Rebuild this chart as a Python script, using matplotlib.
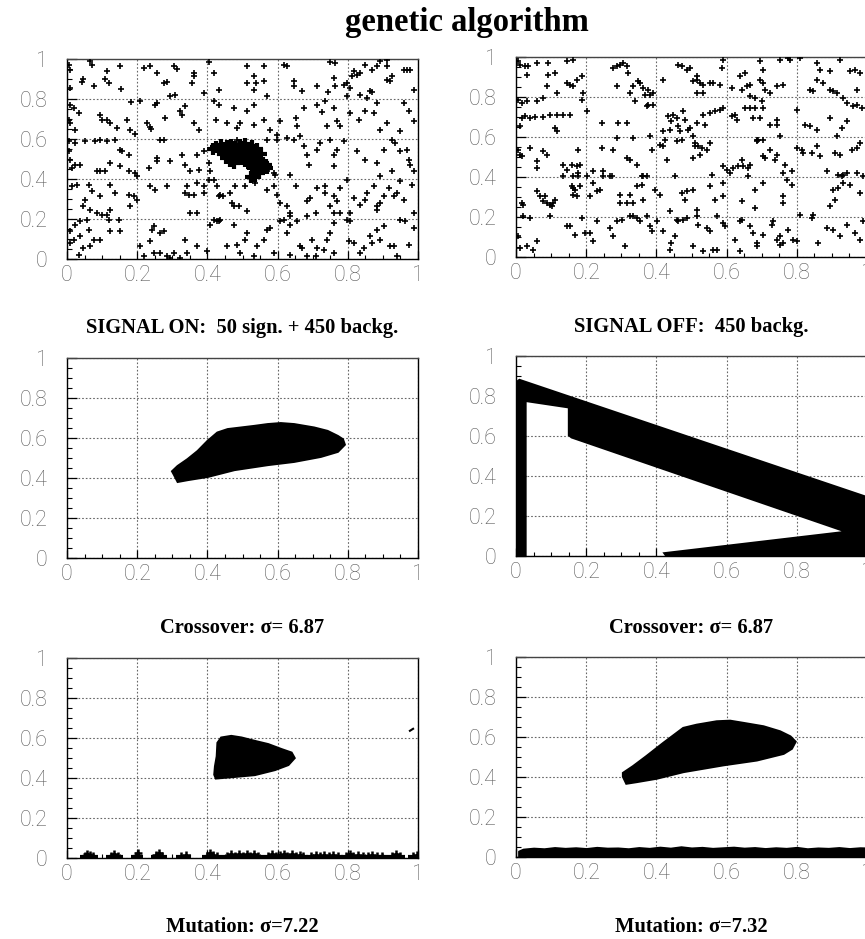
import matplotlib
matplotlib.use("Agg")
import matplotlib.pyplot as plt
from matplotlib.ticker import MultipleLocator
import numpy as np

# ---- data ----
TICKS = [0, 0.2, 0.4, 0.6, 0.8, 1.0]
TICK_LABELS = ['0', '0.2', '0.4', '0.6', '0.8', '1']

TITLE = 'genetic algorithm'
CAPTIONS = [
    ('SIGNAL ON:  50 sign. + 450 backg.', 'SIGNAL OFF:  450 backg.'),
    ('Crossover: \u03c3= 6.87', 'Crossover: \u03c3= 6.87'),
    ('Mutation: \u03c3=7.22', 'Mutation: \u03c3=7.32'),
]

# background events, signal-on panel
BG_ON = [
    (0.005, 0.972), (0.009, 0.947), (0.066, 0.988), (0.071, 0.972), (0.114, 0.938), (0.152, 0.967),
    (0.109, 0.900), (0.119, 0.880), (0.043, 0.883), (0.047, 0.900), (0.076, 0.863), (0.154, 0.850),
    (0.009, 0.855), (0.218, 0.955), (0.237, 0.967), (0.256, 0.930), (0.275, 0.880), (0.285, 0.883),
    (0.304, 0.963), (0.313, 0.950), (0.363, 0.930), (0.363, 0.913), (0.356, 0.880), (0.389, 0.830),
    (0.404, 0.983), (0.432, 0.847), (0.418, 0.930), (0.513, 0.963), (0.560, 0.963), (0.513, 0.880),
    (0.539, 0.880), (0.532, 0.913), (0.560, 0.888), (0.532, 0.847), (0.570, 0.813), (0.617, 0.972),
    (0.627, 0.967), (0.646, 0.888), (0.646, 0.863), (0.670, 0.838), (0.712, 0.863), (0.750, 0.983),
    (0.764, 0.980), (0.760, 0.905), (0.764, 0.863), (0.788, 0.872), (0.798, 0.880), (0.812, 0.913),
    (0.817, 0.938), (0.826, 0.922), (0.836, 0.930), (0.850, 0.972), (0.869, 0.947), (0.883, 0.963),
    (0.893, 0.988), (0.912, 0.963), (0.912, 0.897), (0.921, 0.888), (0.926, 0.913), (0.959, 0.947),
    (0.969, 0.947), (0.978, 0.947), (0.988, 0.847), (0.798, 0.813), (0.836, 0.822), (0.855, 0.805),
    (0.864, 0.838), (0.807, 0.855), (0.869, 0.833), (0.912, 0.993), (0.745, 0.833),
    (0.009, 0.772), (0.019, 0.755), (0.033, 0.730), (0.024, 0.647), (0.005, 0.697), (0.009, 0.680),
    (0.095, 0.722), (0.100, 0.697), (0.114, 0.693), (0.123, 0.680), (0.142, 0.655), (0.171, 0.697),
    (0.182, 0.783), (0.209, 0.788), (0.228, 0.680), (0.237, 0.660), (0.252, 0.772), (0.256, 0.780),
    (0.280, 0.705), (0.294, 0.813), (0.309, 0.822), (0.323, 0.738), (0.328, 0.722), (0.337, 0.763),
    (0.361, 0.680), (0.375, 0.647), (0.418, 0.788), (0.432, 0.772), (0.425, 0.697), (0.456, 0.680),
    (0.475, 0.755), (0.484, 0.655), (0.494, 0.680), (0.513, 0.738), (0.532, 0.772), (0.532, 0.672),
    (0.560, 0.697), (0.579, 0.647), (0.598, 0.622), (0.608, 0.688), (0.651, 0.705), (0.655, 0.663),
    (0.674, 0.755), (0.712, 0.772), (0.726, 0.733), (0.736, 0.788), (0.760, 0.755), (0.769, 0.688),
    (0.779, 0.663), (0.807, 0.730), (0.831, 0.697), (0.850, 0.738), (0.883, 0.780), (0.874, 0.730),
    (0.893, 0.647), (0.912, 0.680), (0.950, 0.638), (0.959, 0.780), (0.973, 0.738), (0.988, 0.688),
    (0.180, 0.647), (0.195, 0.625), (0.240, 0.650), (0.741, 0.663),
    (0.005, 0.588), (0.024, 0.580), (0.052, 0.588), (0.081, 0.588), (0.095, 0.597), (0.114, 0.588),
    (0.138, 0.597), (0.152, 0.547), (0.157, 0.538), (0.005, 0.538), (0.009, 0.497), (0.024, 0.472),
    (0.038, 0.472), (0.014, 0.455), (0.085, 0.438), (0.095, 0.438), (0.109, 0.438), (0.123, 0.480),
    (0.152, 0.463), (0.176, 0.522), (0.176, 0.438), (0.195, 0.430), (0.199, 0.413), (0.233, 0.455),
    (0.256, 0.505), (0.256, 0.488), (0.266, 0.597), (0.275, 0.597), (0.294, 0.488), (0.328, 0.522),
    (0.337, 0.472), (0.351, 0.438), (0.370, 0.522), (0.375, 0.447), (0.389, 0.538), (0.404, 0.480),
    (0.408, 0.438), (0.484, 0.597), (0.570, 0.597), (0.598, 0.597),
    (0.627, 0.605), (0.646, 0.597), (0.665, 0.613), (0.674, 0.563), (0.684, 0.522), (0.689, 0.472),
    (0.712, 0.547), (0.722, 0.580), (0.750, 0.597), (0.760, 0.522), (0.760, 0.463), (0.769, 0.547),
    (0.788, 0.588), (0.826, 0.538), (0.850, 0.497), (0.883, 0.480), (0.902, 0.547), (0.926, 0.597),
    (0.935, 0.580), (0.950, 0.538), (0.973, 0.497), (0.978, 0.472), (0.988, 0.438), (0.589, 0.430),
    (0.594, 0.422), (0.636, 0.422), (0.570, 0.438), (0.893, 0.413), (0.926, 0.438),
    (0.969, 0.547),
    (0.014, 0.363), (0.028, 0.372), (0.062, 0.372), (0.071, 0.338), (0.123, 0.372), (0.138, 0.330),
    (0.176, 0.322), (0.190, 0.313), (0.095, 0.313), (0.052, 0.297), (0.047, 0.263), (0.066, 0.247),
    (0.085, 0.230), (0.100, 0.222), (0.114, 0.222), (0.123, 0.247), (0.180, 0.263), (0.199, 0.297),
    (0.237, 0.363), (0.252, 0.347), (0.285, 0.363), (0.337, 0.330), (0.347, 0.322), (0.361, 0.322),
    (0.370, 0.380), (0.389, 0.363), (0.404, 0.397), (0.418, 0.397), (0.427, 0.363), (0.432, 0.313),
    (0.437, 0.322), (0.444, 0.313), (0.465, 0.330), (0.470, 0.280), (0.475, 0.263), (0.489, 0.263),
    (0.513, 0.238), (0.480, 0.363), (0.508, 0.363), (0.537, 0.380), (0.570, 0.347), (0.589, 0.363),
    (0.598, 0.322), (0.608, 0.280), (0.627, 0.263), (0.636, 0.230), (0.651, 0.363), (0.684, 0.288),
    (0.693, 0.305), (0.712, 0.355), (0.736, 0.363), (0.736, 0.330), (0.750, 0.263), (0.760, 0.313),
    (0.769, 0.288), (0.779, 0.355), (0.798, 0.397), (0.817, 0.305), (0.836, 0.272), (0.850, 0.297),
    (0.855, 0.330), (0.874, 0.363), (0.883, 0.247), (0.883, 0.263), (0.893, 0.280), (0.902, 0.313),
    (0.916, 0.355), (0.931, 0.313), (0.940, 0.330), (0.950, 0.388), (0.959, 0.297), (0.983, 0.372),
    (0.988, 0.230), (0.760, 0.230), (0.779, 0.230), (0.807, 0.230), (0.708, 0.230), (0.636, 0.213),
    (0.684, 0.213), (0.437, 0.197), (0.432, 0.188), (0.418, 0.197), (0.370, 0.230), (0.389, 0.330),
    (0.351, 0.230), (0.342, 0.363),
    (0.009, 0.138), (0.024, 0.172), (0.038, 0.188), (0.057, 0.197), (0.062, 0.147), (0.076, 0.097),
    (0.095, 0.097), (0.047, 0.055), (0.066, 0.063), (0.038, 0.113), (0.019, 0.097), (0.009, 0.080),
    (0.033, 0.022), (0.123, 0.138), (0.119, 0.197), (0.147, 0.197), (0.152, 0.138), (0.209, 0.063),
    (0.237, 0.088), (0.242, 0.147), (0.247, 0.163), (0.266, 0.130), (0.275, 0.138), (0.218, 0.013),
    (0.247, 0.030), (0.266, 0.030), (0.285, 0.013), (0.304, 0.030), (0.337, 0.097), (0.342, 0.030),
    (0.370, 0.063), (0.399, 0.038), (0.408, 0.172), (0.427, 0.188), (0.456, 0.063), (0.475, 0.172),
    (0.484, 0.072), (0.494, 0.030), (0.508, 0.097), (0.513, 0.130), (0.541, 0.063), (0.560, 0.097),
    (0.570, 0.147), (0.579, 0.155), (0.589, 0.030), (0.608, 0.188), (0.617, 0.197), (0.627, 0.130),
    (0.636, 0.172), (0.655, 0.188), (0.665, 0.063), (0.670, 0.055), (0.684, 0.013), (0.698, 0.097),
    (0.712, 0.055), (0.731, 0.047), (0.741, 0.097), (0.750, 0.130), (0.760, 0.180), (0.798, 0.197),
    (0.807, 0.188), (0.802, 0.088), (0.817, 0.080), (0.836, 0.030), (0.845, 0.055), (0.864, 0.113),
    (0.869, 0.080), (0.883, 0.147), (0.893, 0.097), (0.902, 0.163), (0.921, 0.063), (0.931, 0.063),
    (0.950, 0.197), (0.964, 0.188), (0.973, 0.072), (0.988, 0.155), (0.708, 0.013), (0.760, 0.030),
    (0.940, 0.013), (0.532, 0.013), (0.636, 0.022), (0.294, 0.005), (0.323, 0.005),
]

# signal events (dense cluster near the centre)
SIGNAL = [
    (0.415, 0.548), (0.425, 0.560), (0.432, 0.545), (0.440, 0.570), (0.445, 0.555), (0.450, 0.540),
    (0.455, 0.565), (0.460, 0.550), (0.462, 0.530), (0.468, 0.572), (0.470, 0.545), (0.472, 0.520),
    (0.478, 0.560), (0.480, 0.535), (0.483, 0.505), (0.488, 0.550), (0.490, 0.525), (0.493, 0.570),
    (0.497, 0.498), (0.500, 0.540), (0.502, 0.515), (0.505, 0.560), (0.508, 0.490), (0.510, 0.530),
    (0.513, 0.505), (0.516, 0.548), (0.518, 0.475), (0.520, 0.520), (0.523, 0.495), (0.526, 0.565),
    (0.528, 0.460), (0.530, 0.535), (0.533, 0.480), (0.536, 0.510), (0.538, 0.445), (0.540, 0.550),
    (0.543, 0.470), (0.546, 0.495), (0.548, 0.430), (0.552, 0.525), (0.555, 0.460), (0.558, 0.480),
    (0.562, 0.455), (0.566, 0.470), (0.570, 0.455), (0.452, 0.505), (0.465, 0.490), (0.476, 0.478),
    (0.535, 0.415), (0.525, 0.412), (0.445, 0.525), (0.508, 0.575),
]

# background events, signal-off panel
BG_OFF = [
    (0.007, 0.978), (0.011, 0.962), (0.026, 0.953), (0.035, 0.953), (0.030, 0.912), (0.059, 0.970),
    (0.092, 0.970), (0.092, 0.912), (0.111, 0.920), (0.144, 0.978), (0.163, 0.983), (0.144, 0.870),
    (0.154, 0.862), (0.163, 0.853), (0.173, 0.887), (0.187, 0.903), (0.192, 0.820), (0.187, 0.787),
    (0.087, 0.853), (0.116, 0.820), (0.277, 0.945), (0.287, 0.953), (0.296, 0.962), (0.306, 0.970),
    (0.315, 0.953), (0.320, 0.920), (0.287, 0.853), (0.325, 0.820), (0.334, 0.853), (0.349, 0.878),
    (0.353, 0.870), (0.363, 0.845), (0.377, 0.837), (0.368, 0.812), (0.382, 0.812), (0.391, 0.820),
    (0.391, 0.762), (0.372, 0.753), (0.420, 0.887), (0.462, 0.962), (0.472, 0.953), (0.486, 0.937),
    (0.496, 0.945), (0.515, 0.903), (0.515, 0.887), (0.505, 0.878), (0.524, 0.870), (0.534, 0.862),
    (0.515, 0.820), (0.534, 0.820), (0.553, 0.870), (0.562, 0.870), (0.581, 0.862), (0.586, 0.945),
    (0.591, 0.987), (0.614, 0.845), (0.638, 0.903), (0.652, 0.920), (0.643, 0.837), (0.657, 0.853),
    (0.667, 0.862), (0.667, 0.803), (0.681, 0.795), (0.695, 0.978), (0.705, 0.937), (0.695, 0.887),
    (0.705, 0.870), (0.709, 0.837), (0.724, 0.820), (0.743, 0.853), (0.752, 0.987), (0.762, 0.862),
    (0.776, 0.993), (0.781, 0.987), (0.857, 0.970), (0.866, 0.937), (0.895, 0.928), (0.857, 0.887),
    (0.876, 0.870), (0.838, 0.837), (0.847, 0.828), (0.895, 0.837), (0.904, 0.828), (0.914, 0.820),
    (0.933, 0.795), (0.942, 0.770), (0.952, 0.928), (0.966, 0.937), (0.980, 0.920), (0.971, 0.837),
    (0.923, 0.987), (0.809, 0.993),
    (0.007, 0.787), (0.016, 0.770), (0.030, 0.778), (0.059, 0.778), (0.078, 0.795), (0.016, 0.695),
    (0.026, 0.703), (0.040, 0.695), (0.054, 0.700), (0.078, 0.700), (0.097, 0.712), (0.116, 0.712),
    (0.135, 0.712), (0.154, 0.712), (0.011, 0.653), (0.111, 0.645), (0.116, 0.628), (0.201, 0.728),
    (0.244, 0.670), (0.292, 0.670), (0.315, 0.670), (0.287, 0.595), (0.334, 0.595), (0.339, 0.778),
    (0.377, 0.762), (0.434, 0.703), (0.443, 0.678), (0.448, 0.712), (0.458, 0.695), (0.477, 0.728),
    (0.481, 0.687), (0.462, 0.653), (0.491, 0.637), (0.496, 0.645), (0.515, 0.670), (0.538, 0.662),
    (0.534, 0.712), (0.553, 0.720), (0.567, 0.728), (0.591, 0.745), (0.581, 0.737), (0.614, 0.703),
    (0.624, 0.712), (0.629, 0.687), (0.652, 0.745), (0.667, 0.745), (0.681, 0.745), (0.700, 0.778),
    (0.705, 0.745), (0.676, 0.695), (0.695, 0.695), (0.743, 0.687), (0.724, 0.662), (0.743, 0.662),
    (0.800, 0.737), (0.823, 0.662), (0.838, 0.653), (0.857, 0.637), (0.895, 0.695), (0.928, 0.645),
    (0.942, 0.678), (0.961, 0.753), (0.971, 0.762), (0.985, 0.745), (0.439, 0.637), (0.467, 0.628),
    (0.424, 0.587), (0.505, 0.603), (0.752, 0.603), (0.705, 0.587), (0.686, 0.587), (0.914, 0.603),
    (0.382, 0.603), (0.420, 0.628),
    (0.007, 0.537), (0.011, 0.512), (0.016, 0.503), (0.040, 0.545), (0.059, 0.478), (0.059, 0.445),
    (0.078, 0.528), (0.087, 0.512), (0.135, 0.462), (0.144, 0.437), (0.159, 0.462), (0.173, 0.453),
    (0.182, 0.462), (0.178, 0.420), (0.163, 0.403), (0.135, 0.403), (0.178, 0.537), (0.201, 0.403),
    (0.220, 0.428), (0.249, 0.428), (0.268, 0.403), (0.244, 0.545), (0.277, 0.537), (0.315, 0.495),
    (0.325, 0.487), (0.344, 0.462), (0.358, 0.403), (0.387, 0.537), (0.410, 0.562), (0.420, 0.553),
    (0.429, 0.487), (0.458, 0.578), (0.472, 0.587), (0.510, 0.553), (0.510, 0.570), (0.519, 0.553),
    (0.529, 0.545), (0.543, 0.537), (0.553, 0.570), (0.505, 0.495), (0.524, 0.512), (0.591, 0.453),
    (0.600, 0.437), (0.619, 0.445), (0.633, 0.453), (0.648, 0.453), (0.662, 0.445), (0.643, 0.487),
    (0.667, 0.462), (0.686, 0.578), (0.690, 0.587), (0.705, 0.503), (0.709, 0.495), (0.724, 0.537),
    (0.738, 0.487), (0.743, 0.512), (0.766, 0.462), (0.762, 0.420), (0.785, 0.428), (0.800, 0.545),
    (0.814, 0.537), (0.819, 0.520), (0.842, 0.520), (0.857, 0.553), (0.866, 0.503), (0.885, 0.428),
    (0.909, 0.520), (0.923, 0.512), (0.933, 0.412), (0.956, 0.537), (0.971, 0.545), (0.980, 0.570),
    (0.016, 0.270), (0.021, 0.262), (0.059, 0.328), (0.068, 0.303), (0.083, 0.303), (0.078, 0.278),
    (0.087, 0.270), (0.097, 0.262), (0.102, 0.253), (0.111, 0.287), (0.106, 0.270), (0.159, 0.353),
    (0.163, 0.345), (0.168, 0.337), (0.163, 0.312), (0.173, 0.303), (0.182, 0.353), (0.178, 0.403),
    (0.220, 0.370), (0.230, 0.328), (0.239, 0.337), (0.211, 0.303), (0.249, 0.403), (0.273, 0.403),
    (0.296, 0.312), (0.296, 0.270), (0.315, 0.270), (0.334, 0.270), (0.325, 0.312), (0.344, 0.353),
    (0.358, 0.362), (0.363, 0.403), (0.372, 0.403), (0.396, 0.337), (0.410, 0.312), (0.363, 0.287),
    (0.439, 0.228), (0.458, 0.187), (0.453, 0.403), (0.472, 0.320), (0.486, 0.328), (0.481, 0.287),
    (0.505, 0.337), (0.515, 0.237), (0.553, 0.353), (0.557, 0.412), (0.567, 0.287), (0.591, 0.303),
    (0.591, 0.370), (0.610, 0.420), (0.643, 0.278), (0.662, 0.403), (0.681, 0.337), (0.681, 0.245),
    (0.705, 0.370), (0.762, 0.303), (0.762, 0.270), (0.771, 0.387), (0.785, 0.362), (0.847, 0.212),
    (0.895, 0.253), (0.904, 0.337), (0.918, 0.345), (0.928, 0.403), (0.933, 0.370), (0.909, 0.287),
    (0.942, 0.420), (0.952, 0.362), (0.971, 0.420), (0.990, 0.403), (0.980, 0.320), (0.918, 0.412),
    (0.007, 0.103), (0.011, 0.045), (0.030, 0.053), (0.049, 0.037), (0.059, 0.078), (0.021, 0.203),
    (0.040, 0.195), (0.097, 0.203), (0.144, 0.153), (0.154, 0.153), (0.168, 0.112), (0.187, 0.195),
    (0.197, 0.120), (0.211, 0.120), (0.220, 0.078), (0.230, 0.178), (0.268, 0.145), (0.277, 0.103),
    (0.287, 0.178), (0.301, 0.187), (0.311, 0.053), (0.325, 0.203), (0.334, 0.203), (0.344, 0.195),
    (0.353, 0.178), (0.372, 0.203), (0.382, 0.153), (0.387, 0.128), (0.401, 0.178), (0.420, 0.128),
    (0.439, 0.037), (0.443, 0.070), (0.453, 0.103), (0.462, 0.178), (0.477, 0.187), (0.486, 0.195),
    (0.505, 0.053), (0.515, 0.203), (0.519, 0.162), (0.543, 0.145), (0.553, 0.128), (0.572, 0.203),
    (0.591, 0.170), (0.595, 0.153), (0.624, 0.087), (0.638, 0.178), (0.643, 0.187), (0.667, 0.153),
    (0.676, 0.120), (0.686, 0.070), (0.728, 0.162), (0.733, 0.178), (0.743, 0.087), (0.752, 0.103),
    (0.762, 0.070), (0.776, 0.137), (0.790, 0.087), (0.800, 0.078), (0.809, 0.212), (0.842, 0.195),
    (0.861, 0.070), (0.885, 0.145), (0.904, 0.137), (0.923, 0.103), (0.942, 0.162), (0.966, 0.120),
    (0.980, 0.087), (0.990, 0.178), (0.534, 0.028), (0.562, 0.037), (0.572, 0.037), (0.638, 0.028),
    (0.686, 0.053), (0.705, 0.112), (0.752, 0.062),
]

# outline of the selected region, crossover (signal on)
CROSS_ON_X = [0.306, 0.316, 0.344, 0.401, 0.477, 0.572, 0.647, 0.723, 0.771, 0.790, 0.785, 0.771,
              0.742, 0.704, 0.647, 0.609, 0.572, 0.534, 0.496, 0.458, 0.429, 0.401, 0.373, 0.344,
              0.316, 0.301]
CROSS_ON_Y = [0.417, 0.383, 0.392, 0.408, 0.442, 0.467, 0.483, 0.508, 0.533, 0.567, 0.592, 0.608,
              0.633, 0.650, 0.667, 0.672, 0.667, 0.658, 0.650, 0.642, 0.625, 0.583, 0.533, 0.492,
              0.458, 0.433]

# crossover (signal off): left strip + diagonal band + lower wedge
CROSS_OFF_X = [0.0, 0.0, 0.010, 1.02, 1.02, 0.430, 0.425, 0.947, 0.159, 0.152, 0.152, 0.026, 0.026]
CROSS_OFF_Y = [0.0, 0.865, 0.878, 0.280, 0.0, 0.0, 0.012, 0.120, 0.595, 0.605, 0.745, 0.778, 0.0]

# mutation (signal on)
MUT_ON_X = [0.425, 0.478, 0.535, 0.592, 0.630, 0.647, 0.639, 0.611, 0.573, 0.535, 0.497, 0.468,
            0.440, 0.430, 0.428, 0.423, 0.421]
MUT_ON_Y = [0.400, 0.408, 0.417, 0.442, 0.467, 0.500, 0.525, 0.542, 0.567, 0.583, 0.600, 0.608,
            0.600, 0.575, 0.508, 0.458, 0.417]
MUT_ON_BASE_X = [0.050, 0.058, 0.066, 0.075, 0.124, 0.134, 0.145, 0.198, 0.203, 0.253, 0.263, 0.272,
                 0.324, 0.340, 0.398, 0.407, 0.416, 0.427, 0.455, 0.466, 0.478, 0.490, 0.500, 0.512,
                 0.522, 0.533, 0.545, 0.574, 0.584, 0.596, 0.606, 0.617, 0.628, 0.640, 0.651, 0.663,
                 0.673, 0.695, 0.708, 0.720, 0.733, 0.746, 0.758, 0.771, 0.794, 0.805, 0.816, 0.829,
                 0.842, 0.857, 0.869, 0.884, 0.897, 0.925, 0.938, 0.950, 0.985, 0.996]
MUT_ON_BASE_Y = [0.012, 0.022, 0.014, 0.010, 0.010, 0.018, 0.010, 0.012, 0.026, 0.014, 0.024, 0.012,
                 0.010, 0.016, 0.012, 0.024, 0.014, 0.010, 0.012, 0.020, 0.010, 0.022, 0.012, 0.018,
                 0.010, 0.022, 0.012, 0.012, 0.020, 0.010, 0.016, 0.022, 0.012, 0.018, 0.010, 0.014,
                 0.010, 0.010, 0.014, 0.010, 0.016, 0.010, 0.014, 0.010, 0.012, 0.020, 0.010, 0.014,
                 0.010, 0.012, 0.016, 0.010, 0.012, 0.010, 0.018, 0.010, 0.010, 0.016]
MUT_ON_SPECK_X = [0.977, 0.986]
MUT_ON_SPECK_Y = [0.636, 0.646]

# mutation (signal off)
MUT_OFF_X = [0.306, 0.315, 0.344, 0.401, 0.477, 0.591, 0.686, 0.762, 0.785, 0.795, 0.781, 0.752,
             0.705, 0.648, 0.610, 0.572, 0.515, 0.477, 0.458, 0.420, 0.372, 0.334, 0.306]
MUT_OFF_Y = [0.402, 0.369, 0.377, 0.394, 0.427, 0.461, 0.485, 0.518, 0.543, 0.576, 0.601, 0.626,
             0.651, 0.668, 0.679, 0.676, 0.659, 0.643, 0.618, 0.568, 0.502, 0.452, 0.419]
BAND_X = [0.007, 0.02, 0.05, 0.08, 0.11, 0.14, 0.17, 0.20, 0.23, 0.26, 0.29, 0.32, 0.35, 0.38,
          0.41, 0.44, 0.47, 0.50, 0.53, 0.56, 0.59, 0.62, 0.65, 0.68, 0.71, 0.74, 0.77, 0.80,
          0.83, 0.86, 0.89, 0.92, 0.95, 0.98, 1.02]
BAND_TOP = [0.030, 0.040, 0.045, 0.042, 0.048, 0.044, 0.047, 0.043, 0.049, 0.045, 0.046, 0.042,
            0.048, 0.044, 0.050, 0.045, 0.052, 0.046, 0.049, 0.044, 0.047, 0.050, 0.045, 0.048,
            0.043, 0.047, 0.044, 0.049, 0.042, 0.046, 0.044, 0.048, 0.043, 0.047, 0.045]

# ---- layout (figure pixels) ----
W, H = 865, 939
LEFT_X = [67, 516]
PANEL_W = 351
PANEL_TOP = [[59, 57], [358, 356], [658, 657]]
PANEL_H = 200
CAPTION_BASE = [[333, 332], [633, 633], [932, 932]]

serif = ['Liberation Serif', 'DejaVu Serif']
tick_font = dict(family=['Roboto', 'DejaVu Sans'], weight='light', size=15.5)


def style_axes(ax):
    ax.set_xlim(0, 1)
    ax.set_ylim(0, 1)
    ax.set_xticks(TICKS)
    ax.set_yticks(TICKS)
    ax.set_xticklabels(TICK_LABELS, **tick_font)
    ax.set_yticklabels(TICK_LABELS, **tick_font)
    ax.xaxis.set_minor_locator(MultipleLocator(0.05))
    ax.yaxis.set_minor_locator(MultipleLocator(0.05))
    ax.tick_params(axis='both', which='both', direction='in', colors='black',
                   labelcolor='#5e5e5e', top=False, right=False)
    ax.tick_params(axis='x', which='major', length=5.5, width=0.9, pad=4)
    ax.tick_params(axis='x', which='minor', length=3.0, width=0.8)
    ax.tick_params(axis='y', which='major', length=7.0, width=0.9, pad=14)
    ax.tick_params(axis='y', which='minor', length=3.5, width=0.8)
    for s in ax.spines.values():
        s.set_linewidth(1.0)
        s.set_color('black')
    ax.spines['top'].set_color('#444444')
    ax.grid(True, which='major', linestyle=(0, (1.5, 1.8)), linewidth=0.8, color='#666666')
    ax.set_axisbelow(True)


fig = plt.figure(figsize=(W / 100, H / 100), dpi=100)
axes = []
for r in range(3):
    row = []
    for c in range(2):
        top = PANEL_TOP[r][c]
        ax = fig.add_axes([LEFT_X[c] / W, 1 - (top + PANEL_H) / H, PANEL_W / W, PANEL_H / H])
        style_axes(ax)
        row.append(ax)
        cx = (LEFT_X[c] + PANEL_W / 2) / W
        fig.text(cx, 1 - CAPTION_BASE[r][c] / H, CAPTIONS[r][c], ha='center', va='baseline',
                 fontsize=14.8, fontweight='bold', family=serif)
    axes.append(row)

fig.text(467 / W, 1 - 31 / H, TITLE, ha='center', va='baseline', fontsize=23.5,
         fontweight='bold', family=serif)

mk = dict(marker='+', linestyle='none', color='black', markersize=4.6, markeredgewidth=1.2, zorder=3)

# row 1: raw events
bx, by = zip(*BG_ON)
sx, sy = zip(*SIGNAL)
axes[0][0].plot(bx, by, **mk)
axes[0][0].plot(sx, sy, **dict(mk, markersize=8, markeredgewidth=3.0))
ox, oy = zip(*BG_OFF)
axes[0][1].plot(ox, oy, **mk)

# row 2: crossover
poly = dict(facecolor='black', edgecolor='black', linewidth=2.2, joinstyle='miter', zorder=3)
axes[1][0].fill(CROSS_ON_X, CROSS_ON_Y, **poly)
axes[1][1].fill(CROSS_OFF_X, CROSS_OFF_Y, **poly)

# row 3: mutation
axes[2][0].fill(MUT_ON_X, MUT_ON_Y, **poly)
axes[2][0].plot(MUT_ON_BASE_X, MUT_ON_BASE_Y, **dict(mk, markersize=6, markeredgewidth=1.8))
axes[2][0].plot(MUT_ON_BASE_X, np.full(len(MUT_ON_BASE_X), 0.006),
                **dict(mk, marker='_', markersize=7, markeredgewidth=3))
axes[2][0].plot(MUT_ON_SPECK_X, MUT_ON_SPECK_Y, color='black', linewidth=1.5)
axes[2][1].fill(MUT_OFF_X, MUT_OFF_Y, **poly)
axes[2][1].fill_between(BAND_X, 0, BAND_TOP, facecolor='black', edgecolor='black',
                        linewidth=1.2, zorder=3)

for row in axes:
    for ax in row:
        ax.set_xlim(0, 1)
        ax.set_ylim(0, 1)

fig.savefig('out.png', dpi=100)
